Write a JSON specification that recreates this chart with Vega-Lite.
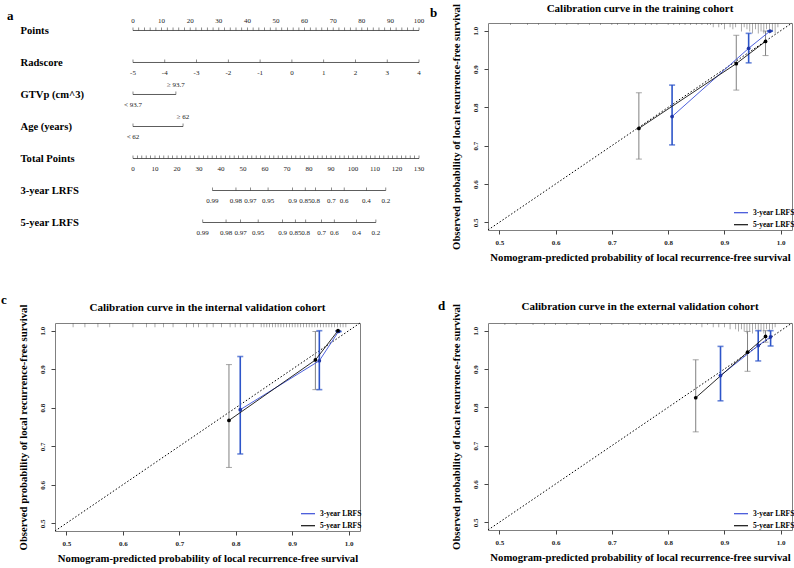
{
 "$schema": "https://vega.github.io/schema/vega-lite/v6.json",
 "padding": {"left": 1, "top": 2, "right": 0, "bottom": 0},
 "columns": 2,
 "bounds": "flush",
 "spacing": {"row": 93, "column": 128},
 "resolve": {"scale": {"color": "independent"}, "legend": {"color": "independent"}},
 "config": {
  "font": "Liberation Serif",
  "view": {"stroke": "#808080", "strokeWidth": 1},
  "axis": {"domain": false, "grid": false, "ticks": true, "tickColor": "#444", "tickSize": 4, "labelFont": "Liberation Serif", "labelFontWeight": "bold", "labelFontSize": 7, "labelColor": "#222", "titleFont": "Liberation Serif", "titleFontWeight": "bold", "titleFontSize": 10.7, "titleColor": "#000"},
  "title": {"font": "Liberation Serif", "fontWeight": "bold", "color": "#000"}
 },
 "datasets": {
  "nomoA": [
   {"row": "Points", "pts": 0, "label": "0"}, {"row": "Points", "pts": 10, "label": "10"}, {"row": "Points", "pts": 20, "label": "20"}, {"row": "Points", "pts": 30, "label": "30"}, {"row": "Points", "pts": 40, "label": "40"}, {"row": "Points", "pts": 50, "label": "50"}, {"row": "Points", "pts": 60, "label": "60"}, {"row": "Points", "pts": 70, "label": "70"}, {"row": "Points", "pts": 80, "label": "80"}, {"row": "Points", "pts": 90, "label": "90"}, {"row": "Points", "pts": 100, "label": "100"},
   {"row": "Radscore", "pts": 0, "label": "-5"}, {"row": "Radscore", "pts": 11.11, "label": "-4"}, {"row": "Radscore", "pts": 22.22, "label": "-3"}, {"row": "Radscore", "pts": 33.33, "label": "-2"}, {"row": "Radscore", "pts": 44.44, "label": "-1"}, {"row": "Radscore", "pts": 55.56, "label": "0"}, {"row": "Radscore", "pts": 66.67, "label": "1"}, {"row": "Radscore", "pts": 77.78, "label": "2"}, {"row": "Radscore", "pts": 88.89, "label": "3"}, {"row": "Radscore", "pts": 100, "label": "4"},
   {"row": "GTVp (cm^3)", "pts": 0, "label": "< 93.7"}, {"row": "GTVp (cm^3)", "pts": 15, "label": "≥ 93.7"},
   {"row": "Age (years)", "pts": 0, "label": "< 62"}, {"row": "Age (years)", "pts": 17.5, "label": "≥ 62"}
  ],
  "nomoA_minor": [
   {"row": "Points", "pts": 2}, {"row": "Points", "pts": 4}, {"row": "Points", "pts": 6}, {"row": "Points", "pts": 8}, {"row": "Points", "pts": 12}, {"row": "Points", "pts": 14}, {"row": "Points", "pts": 16}, {"row": "Points", "pts": 18}, {"row": "Points", "pts": 22}, {"row": "Points", "pts": 24}, {"row": "Points", "pts": 26}, {"row": "Points", "pts": 28}, {"row": "Points", "pts": 32}, {"row": "Points", "pts": 34}, {"row": "Points", "pts": 36}, {"row": "Points", "pts": 38}, {"row": "Points", "pts": 42}, {"row": "Points", "pts": 44}, {"row": "Points", "pts": 46}, {"row": "Points", "pts": 48}, {"row": "Points", "pts": 52}, {"row": "Points", "pts": 54}, {"row": "Points", "pts": 56}, {"row": "Points", "pts": 58}, {"row": "Points", "pts": 62}, {"row": "Points", "pts": 64}, {"row": "Points", "pts": 66}, {"row": "Points", "pts": 68}, {"row": "Points", "pts": 72}, {"row": "Points", "pts": 74}, {"row": "Points", "pts": 76}, {"row": "Points", "pts": 78}, {"row": "Points", "pts": 82}, {"row": "Points", "pts": 84}, {"row": "Points", "pts": 86}, {"row": "Points", "pts": 88}, {"row": "Points", "pts": 92}, {"row": "Points", "pts": 94}, {"row": "Points", "pts": 96}, {"row": "Points", "pts": 98}
  ],
  "nomoB": [
   {"row": "Total Points", "pts": 0, "label": "0"}, {"row": "Total Points", "pts": 10, "label": "10"}, {"row": "Total Points", "pts": 20, "label": "20"}, {"row": "Total Points", "pts": 30, "label": "30"}, {"row": "Total Points", "pts": 40, "label": "40"}, {"row": "Total Points", "pts": 50, "label": "50"}, {"row": "Total Points", "pts": 60, "label": "60"}, {"row": "Total Points", "pts": 70, "label": "70"}, {"row": "Total Points", "pts": 80, "label": "80"}, {"row": "Total Points", "pts": 90, "label": "90"}, {"row": "Total Points", "pts": 100, "label": "100"}, {"row": "Total Points", "pts": 110, "label": "110"}, {"row": "Total Points", "pts": 120, "label": "120"}, {"row": "Total Points", "pts": 130, "label": "130"},
   {"row": "3-year LRFS", "pts": 36.1, "label": "0.99"}, {"row": "3-year LRFS", "pts": 46.8, "label": "0.98"}, {"row": "3-year LRFS", "pts": 53.4, "label": "0.97"}, {"row": "3-year LRFS", "pts": 61.4, "label": "0.95"}, {"row": "3-year LRFS", "pts": 72.5, "label": "0.9"}, {"row": "3-year LRFS", "pts": 78.3, "label": "0.85"}, {"row": "3-year LRFS", "pts": 83.0, "label": "0.8"}, {"row": "3-year LRFS", "pts": 90.2, "label": "0.7"}, {"row": "3-year LRFS", "pts": 96.0, "label": "0.6"}, {"row": "3-year LRFS", "pts": 106.1, "label": "0.4"}, {"row": "3-year LRFS", "pts": 114.9, "label": "0.2"},
   {"row": "5-year LRFS", "pts": 31.7, "label": "0.99"}, {"row": "5-year LRFS", "pts": 42.3, "label": "0.98"}, {"row": "5-year LRFS", "pts": 48.9, "label": "0.97"}, {"row": "5-year LRFS", "pts": 56.9, "label": "0.95"}, {"row": "5-year LRFS", "pts": 68.0, "label": "0.9"}, {"row": "5-year LRFS", "pts": 73.8, "label": "0.85"}, {"row": "5-year LRFS", "pts": 78.5, "label": "0.8"}, {"row": "5-year LRFS", "pts": 85.7, "label": "0.7"}, {"row": "5-year LRFS", "pts": 91.5, "label": "0.6"}, {"row": "5-year LRFS", "pts": 101.6, "label": "0.4"}, {"row": "5-year LRFS", "pts": 110.4, "label": "0.2"}
  ],
  "nomoB_minor": [
   {"row": "Total Points", "pts": 2}, {"row": "Total Points", "pts": 4}, {"row": "Total Points", "pts": 6}, {"row": "Total Points", "pts": 8}, {"row": "Total Points", "pts": 12}, {"row": "Total Points", "pts": 14}, {"row": "Total Points", "pts": 16}, {"row": "Total Points", "pts": 18}, {"row": "Total Points", "pts": 22}, {"row": "Total Points", "pts": 24}, {"row": "Total Points", "pts": 26}, {"row": "Total Points", "pts": 28}, {"row": "Total Points", "pts": 32}, {"row": "Total Points", "pts": 34}, {"row": "Total Points", "pts": 36}, {"row": "Total Points", "pts": 38}, {"row": "Total Points", "pts": 42}, {"row": "Total Points", "pts": 44}, {"row": "Total Points", "pts": 46}, {"row": "Total Points", "pts": 48}, {"row": "Total Points", "pts": 52}, {"row": "Total Points", "pts": 54}, {"row": "Total Points", "pts": 56}, {"row": "Total Points", "pts": 58}, {"row": "Total Points", "pts": 62}, {"row": "Total Points", "pts": 64}, {"row": "Total Points", "pts": 66}, {"row": "Total Points", "pts": 68}, {"row": "Total Points", "pts": 72}, {"row": "Total Points", "pts": 74}, {"row": "Total Points", "pts": 76}, {"row": "Total Points", "pts": 78}, {"row": "Total Points", "pts": 82}, {"row": "Total Points", "pts": 84}, {"row": "Total Points", "pts": 86}, {"row": "Total Points", "pts": 88}, {"row": "Total Points", "pts": 92}, {"row": "Total Points", "pts": 94}, {"row": "Total Points", "pts": 96}, {"row": "Total Points", "pts": 98}, {"row": "Total Points", "pts": 102}, {"row": "Total Points", "pts": 104}, {"row": "Total Points", "pts": 106}, {"row": "Total Points", "pts": 108}, {"row": "Total Points", "pts": 112}, {"row": "Total Points", "pts": 114}, {"row": "Total Points", "pts": 116}, {"row": "Total Points", "pts": 118}, {"row": "Total Points", "pts": 122}, {"row": "Total Points", "pts": 124}, {"row": "Total Points", "pts": 126}, {"row": "Total Points", "pts": 128}
  ],
  "b_cal": [
   {"series": "3-year LRFS", "pred": 0.807, "obs": 0.776, "lo": 0.702, "hi": 0.858},
   {"series": "3-year LRFS", "pred": 0.943, "obs": 0.954, "lo": 0.916, "hi": 0.993},
   {"series": "3-year LRFS", "pred": 0.981, "obs": 0.999, "lo": 0.999, "hi": 0.999},
   {"series": "5-year LRFS", "pred": 0.748, "obs": 0.745, "lo": 0.665, "hi": 0.838},
   {"series": "5-year LRFS", "pred": 0.921, "obs": 0.914, "lo": 0.845, "hi": 0.988},
   {"series": "5-year LRFS", "pred": 0.973, "obs": 0.972, "lo": 0.935, "hi": 0.999}
  ],
  "c_cal": [
   {"series": "3-year LRFS", "pred": 0.808, "obs": 0.795, "lo": 0.68, "hi": 0.933},
   {"series": "3-year LRFS", "pred": 0.948, "obs": 0.922, "lo": 0.847, "hi": 1.0},
   {"series": "3-year LRFS", "pred": 0.982, "obs": 0.998, "lo": 0.998, "hi": 0.998},
   {"series": "5-year LRFS", "pred": 0.788, "obs": 0.767, "lo": 0.645, "hi": 0.912},
   {"series": "5-year LRFS", "pred": 0.941, "obs": 0.924, "lo": 0.847, "hi": 0.998},
   {"series": "5-year LRFS", "pred": 0.981, "obs": 1.0, "lo": 1.0, "hi": 1.0}
  ],
  "d_cal": [
   {"series": "3-year LRFS", "pred": 0.893, "obs": 0.883, "lo": 0.817, "hi": 0.959},
   {"series": "3-year LRFS", "pred": 0.96, "obs": 0.961, "lo": 0.921, "hi": 1.0},
   {"series": "3-year LRFS", "pred": 0.982, "obs": 0.984, "lo": 0.96, "hi": 1.0},
   {"series": "5-year LRFS", "pred": 0.849, "obs": 0.825, "lo": 0.736, "hi": 0.924},
   {"series": "5-year LRFS", "pred": 0.941, "obs": 0.944, "lo": 0.894, "hi": 0.998},
   {"series": "5-year LRFS", "pred": 0.973, "obs": 0.985, "lo": 0.97, "hi": 1.0}
  ],
  "b_rug": [
   {"p": 0.52, "n": 1}, {"p": 0.55, "n": 1}, {"p": 0.57, "n": 1}, {"p": 0.6, "n": 1}, {"p": 0.62, "n": 1}, {"p": 0.64, "n": 1}, {"p": 0.66, "n": 1}, {"p": 0.68, "n": 1}, {"p": 0.7, "n": 1}, {"p": 0.71, "n": 1}, {"p": 0.73, "n": 1}, {"p": 0.74, "n": 1}, {"p": 0.76, "n": 1}, {"p": 0.77, "n": 1}, {"p": 0.78, "n": 1}, {"p": 0.8, "n": 1}, {"p": 0.81, "n": 1}, {"p": 0.82, "n": 1}, {"p": 0.83, "n": 1}, {"p": 0.84, "n": 1}, {"p": 0.85, "n": 1}, {"p": 0.86, "n": 1}, {"p": 0.87, "n": 1}, {"p": 0.875, "n": 1},
   {"p": 0.88, "n": 2}, {"p": 0.89, "n": 2}, {"p": 0.895, "n": 1}, {"p": 0.9, "n": 3}, {"p": 0.91, "n": 2}, {"p": 0.915, "n": 3}, {"p": 0.92, "n": 2}, {"p": 0.93, "n": 4}, {"p": 0.935, "n": 2}, {"p": 0.94, "n": 3}, {"p": 0.945, "n": 4}, {"p": 0.95, "n": 5}, {"p": 0.955, "n": 3}, {"p": 0.96, "n": 5}, {"p": 0.965, "n": 4}, {"p": 0.97, "n": 5}, {"p": 0.975, "n": 3}, {"p": 0.98, "n": 5}, {"p": 0.985, "n": 4}, {"p": 0.99, "n": 5}, {"p": 0.995, "n": 2}
  ],
  "c_rug": [
   {"p": 0.512, "n": 2}, {"p": 0.533, "n": 2}, {"p": 0.556, "n": 2}, {"p": 0.577, "n": 2}, {"p": 0.618, "n": 2}, {"p": 0.642, "n": 2}, {"p": 0.657, "n": 2}, {"p": 0.672, "n": 2}, {"p": 0.689, "n": 2}, {"p": 0.713, "n": 2}, {"p": 0.725, "n": 2}, {"p": 0.734, "n": 2}, {"p": 0.749, "n": 2}, {"p": 0.76, "n": 2}, {"p": 0.775, "n": 2}, {"p": 0.79, "n": 2}, {"p": 0.799, "n": 2}, {"p": 0.808, "n": 2}, {"p": 0.82, "n": 2}, {"p": 0.831, "n": 2},
   {"p": 0.845, "n": 2}, {"p": 0.85, "n": 2}, {"p": 0.855, "n": 2}, {"p": 0.86, "n": 2}, {"p": 0.865, "n": 2}, {"p": 0.87, "n": 2}, {"p": 0.875, "n": 2}, {"p": 0.88, "n": 2}, {"p": 0.885, "n": 2}, {"p": 0.89, "n": 2}, {"p": 0.895, "n": 2}, {"p": 0.9, "n": 2}, {"p": 0.905, "n": 2}, {"p": 0.91, "n": 2}, {"p": 0.915, "n": 2}, {"p": 0.92, "n": 2}, {"p": 0.925, "n": 2}, {"p": 0.93, "n": 2}, {"p": 0.935, "n": 2}, {"p": 0.94, "n": 2}, {"p": 0.945, "n": 2}, {"p": 0.95, "n": 2}, {"p": 0.955, "n": 2}, {"p": 0.96, "n": 2}, {"p": 0.965, "n": 2}, {"p": 0.97, "n": 2}, {"p": 0.975, "n": 2}, {"p": 0.98, "n": 2}, {"p": 0.985, "n": 2}, {"p": 0.99, "n": 2}, {"p": 0.995, "n": 2}
  ],
  "d_rug": [
   {"p": 0.51, "n": 1}, {"p": 0.53, "n": 1}, {"p": 0.56, "n": 1}, {"p": 0.58, "n": 1}, {"p": 0.6, "n": 1}, {"p": 0.62, "n": 1}, {"p": 0.64, "n": 1}, {"p": 0.66, "n": 1}, {"p": 0.68, "n": 1}, {"p": 0.7, "n": 1}, {"p": 0.72, "n": 1}, {"p": 0.73, "n": 1}, {"p": 0.75, "n": 1}, {"p": 0.76, "n": 1}, {"p": 0.77, "n": 1}, {"p": 0.78, "n": 1}, {"p": 0.79, "n": 1}, {"p": 0.8, "n": 1}, {"p": 0.81, "n": 1}, {"p": 0.82, "n": 1}, {"p": 0.83, "n": 1}, {"p": 0.84, "n": 1}, {"p": 0.85, "n": 1}, {"p": 0.86, "n": 2}, {"p": 0.87, "n": 1}, {"p": 0.88, "n": 2}, {"p": 0.89, "n": 2}, {"p": 0.9, "n": 2}, {"p": 0.91, "n": 3}, {"p": 0.92, "n": 3}, {"p": 0.925, "n": 4}, {"p": 0.93, "n": 3}, {"p": 0.935, "n": 4}, {"p": 0.94, "n": 5}, {"p": 0.945, "n": 4}, {"p": 0.95, "n": 5}, {"p": 0.955, "n": 3}, {"p": 0.96, "n": 5}, {"p": 0.965, "n": 4}, {"p": 0.97, "n": 5}, {"p": 0.975, "n": 3}, {"p": 0.98, "n": 4}, {"p": 0.985, "n": 3}, {"p": 0.99, "n": 2}
  ]
 },
 "concat": [
  {
   "width": 305, "height": 207,
   "view": {"stroke": null},
   "title": {"text": "a", "anchor": "start", "frame": "group", "dx": -48, "dy": 6, "offset": 0, "fontSize": 13},
   "resolve": {"scale": {"x": "independent"}},
   "layer": [
    {"data": {"name": "nomoA"}, "mark": {"type": "rule", "color": "#333", "strokeWidth": 0.8},
     "encoding": {
      "x": {"aggregate": "min", "field": "pts", "type": "quantitative", "scale": {"domain": [-27.27, 79.37], "nice": false, "zero": false}, "axis": null},
      "x2": {"aggregate": "max", "field": "pts"},
      "y": {"field": "row", "type": "ordinal", "scale": {"type": "point", "domain": ["Points", "Radscore", "GTVp (cm^3)", "Age (years)", "Total Points", "3-year LRFS", "5-year LRFS"], "padding": 0.234}, "axis": {"title": null, "ticks": false, "domain": false, "labelAlign": "left", "labelBaseline": "middle", "labelPadding": 35, "labelFontSize": 10.6, "labelFontWeight": "bold", "labelColor": "#000", "labelOverlap": false, "labelLimit": 300}}
     }},
    {"data": {"name": "nomoA"}, "mark": {"type": "tick", "orient": "vertical", "size": 3, "thickness": 0.8, "yOffset": -1.5, "color": "#333"},
     "encoding": {"x": {"field": "pts", "type": "quantitative", "scale": {"domain": [-27.27, 79.37], "nice": false, "zero": false}, "axis": null}, "y": {"field": "row", "type": "ordinal"}}},
    {"data": {"name": "nomoA_minor"}, "mark": {"type": "tick", "orient": "vertical", "size": 3, "thickness": 0.8, "yOffset": -1.5, "color": "#333"},
     "encoding": {"x": {"field": "pts", "type": "quantitative", "scale": {"domain": [-27.27, 79.37], "nice": false, "zero": false}, "axis": null}, "y": {"field": "row", "type": "ordinal"}}},
    {"data": {"name": "nomoA"}, "transform": [{"filter": "datum.row === 'Points' || indexof(datum.label, '≥') === 0"}],
     "mark": {"type": "text", "dy": -9.5, "fontSize": 7, "color": "#222", "baseline": "middle"},
     "encoding": {"x": {"field": "pts", "type": "quantitative", "scale": {"domain": [-27.27, 79.37], "nice": false, "zero": false}, "axis": null}, "y": {"field": "row", "type": "ordinal"}, "text": {"field": "label"}}},
    {"data": {"name": "nomoA"}, "transform": [{"filter": "!(datum.row === 'Points' || indexof(datum.label, '≥') === 0)"}],
     "mark": {"type": "text", "dy": 10.5, "fontSize": 7, "color": "#222", "baseline": "middle"},
     "encoding": {"x": {"field": "pts", "type": "quantitative", "scale": {"domain": [-27.27, 79.37], "nice": false, "zero": false}, "axis": null}, "y": {"field": "row", "type": "ordinal"}, "text": {"field": "label"}}},
    {"data": {"name": "nomoB"}, "mark": {"type": "rule", "color": "#333", "strokeWidth": 0.8},
     "encoding": {
      "x": {"aggregate": "min", "field": "pts", "type": "quantitative", "scale": {"domain": [-35.45, 103.18], "nice": false, "zero": false}, "axis": null},
      "x2": {"aggregate": "max", "field": "pts"},
      "y": {"field": "row", "type": "ordinal"}
     }},
    {"data": {"name": "nomoB"}, "mark": {"type": "tick", "orient": "vertical", "size": 3, "thickness": 0.8, "yOffset": -1.5, "color": "#333"},
     "encoding": {"x": {"field": "pts", "type": "quantitative", "scale": {"domain": [-35.45, 103.18], "nice": false, "zero": false}, "axis": null}, "y": {"field": "row", "type": "ordinal"}}},
    {"data": {"name": "nomoB_minor"}, "mark": {"type": "tick", "orient": "vertical", "size": 3, "thickness": 0.8, "yOffset": -1.5, "color": "#333"},
     "encoding": {"x": {"field": "pts", "type": "quantitative", "scale": {"domain": [-35.45, 103.18], "nice": false, "zero": false}, "axis": null}, "y": {"field": "row", "type": "ordinal"}}},
    {"data": {"name": "nomoB"}, "mark": {"type": "text", "dy": 10.5, "fontSize": 7, "color": "#222", "baseline": "middle"},
     "encoding": {"x": {"field": "pts", "type": "quantitative", "scale": {"domain": [-35.45, 103.18], "nice": false, "zero": false}, "axis": null}, "y": {"field": "row", "type": "ordinal"}, "text": {"field": "label"}}}
   ]
  },
  {
   "title": {"text": "b", "anchor": "start", "frame": "group", "dx": -58, "dy": 17.5, "offset": 0, "fontSize": 13},
   "bounds": "flush",
   "vconcat": [
    {
     "width": 304, "height": 207,
     "title": {"text": "Calibration curve in the training cohort", "anchor": "middle", "frame": "group", "fontSize": 11, "offset": 0, "dy": 10.5},
     "layer": [
      {"data": {"name": "b_rug"}, "mark": {"type": "tick", "orient": "vertical", "clip": true, "color": "#555", "thickness": 0.7},
       "encoding": {"x": {"field": "p", "type": "quantitative", "scale": {"domain": [0.48, 1.02], "nice": false, "zero": false}},
        "y": {"datum": 1.02, "type": "quantitative", "scale": {"domain": [0.48, 1.02], "nice": false, "zero": false}},
        "size": {"field": "n", "type": "quantitative", "scale": {"domain": [0, 5], "range": [0, 21]}, "legend": null}}},
      {"data": {"values": [{}]}, "mark": {"type": "rule", "color": "#000", "strokeDash": [1.5, 2], "strokeWidth": 1},
       "encoding": {"x": {"datum": 0.48, "type": "quantitative"}, "y": {"datum": 0.48, "type": "quantitative"}, "x2": {"datum": 1.02}, "y2": {"datum": 1.02}}},
      {"data": {"name": "b_cal"}, "transform": [{"filter": "datum.series === '5-year LRFS'"}], "mark": {"type": "errorbar", "color": "#808080", "ticks": true, "size": 6, "thickness": 1},
       "encoding": {"x": {"field": "pred", "type": "quantitative", "title": "Nomogram-predicted probability of local recurrence-free survival"}, "y": {"field": "lo", "type": "quantitative", "title": "Observed probability of local recurrence-free survival"}, "y2": {"field": "hi"}}},
      {"data": {"name": "b_cal"}, "transform": [{"filter": "datum.series === '3-year LRFS'"}], "mark": {"type": "errorbar", "color": "#2d55c9", "ticks": true, "size": 6, "thickness": 1.6},
       "encoding": {"x": {"field": "pred", "type": "quantitative", "title": "Nomogram-predicted probability of local recurrence-free survival"}, "y": {"field": "lo", "type": "quantitative", "title": "Observed probability of local recurrence-free survival"}, "y2": {"field": "hi"}}},
      {"data": {"name": "b_cal"}, "mark": {"type": "line", "strokeWidth": 0.9},
       "encoding": {
        "x": {"field": "pred", "type": "quantitative", "scale": {"domain": [0.48, 1.02], "nice": false, "zero": false}, "axis": {"values": [0.5, 0.6, 0.7, 0.8, 0.9, 1.0], "format": ".1f", "title": "Nomogram-predicted probability of local recurrence-free survival", "labelPadding": 4, "titlePadding": 7}},
        "y": {"field": "obs", "type": "quantitative", "scale": {"domain": [0.48, 1.02], "nice": false, "zero": false}, "axis": {"values": [0.5, 0.6, 0.7, 0.8, 0.9, 1.0], "format": ".1f", "labelAngle": 270, "title": "Observed probability of local recurrence-free survival", "labelPadding": 6, "titlePadding": 10}},
        "color": {"field": "series", "type": "nominal", "scale": {"domain": ["3-year LRFS", "5-year LRFS"], "range": ["#3a4fd8", "#111111"]},
         "legend": {"orient": "none", "legendX": 245, "legendY": 181.7, "direction": "vertical", "title": null, "symbolType": "stroke", "symbolSize": 196, "symbolStrokeWidth": 1.2, "labelFont": "Liberation Serif", "labelFontWeight": "bold", "labelFontSize": 7.5, "labelOffset": 4, "labelColor": "#000", "rowPadding": -7, "padding": 0}}
       }},
      {"data": {"name": "b_cal"}, "mark": {"type": "point", "filled": true, "size": 14, "opacity": 1},
       "encoding": {"x": {"field": "pred", "type": "quantitative"}, "y": {"field": "obs", "type": "quantitative"},
        "fill": {"field": "series", "type": "nominal", "scale": {"domain": ["3-year LRFS", "5-year LRFS"], "range": ["#1f36a8", "#000000"]}, "legend": null}}}
     ]
    }
   ]
  },
  {
   "title": {"text": "c", "anchor": "start", "frame": "group", "dx": -54, "dy": 5.6, "offset": 0, "fontSize": 13},
   "bounds": "flush",
   "vconcat": [
    {
     "width": 305, "height": 208,
     "title": {"text": "Calibration curve in the internal validation cohort", "anchor": "middle", "frame": "group", "fontSize": 11, "offset": 0, "dy": 8.5},
     "layer": [
      {"data": {"name": "c_rug"}, "mark": {"type": "tick", "orient": "vertical", "clip": true, "color": "#555", "thickness": 0.7},
       "encoding": {"x": {"field": "p", "type": "quantitative", "scale": {"domain": [0.48, 1.02], "nice": false, "zero": false}},
        "y": {"datum": 1.02, "type": "quantitative", "scale": {"domain": [0.48, 1.02], "nice": false, "zero": false}},
        "size": {"field": "n", "type": "quantitative", "scale": {"domain": [0, 5], "range": [0, 21]}, "legend": null}}},
      {"data": {"values": [{}]}, "mark": {"type": "rule", "color": "#000", "strokeDash": [1.5, 2], "strokeWidth": 1},
       "encoding": {"x": {"datum": 0.48, "type": "quantitative"}, "y": {"datum": 0.48, "type": "quantitative"}, "x2": {"datum": 1.02}, "y2": {"datum": 1.02}}},
      {"data": {"name": "c_cal"}, "transform": [{"filter": "datum.series === '5-year LRFS'"}], "mark": {"type": "errorbar", "color": "#808080", "ticks": true, "size": 6, "thickness": 1},
       "encoding": {"x": {"field": "pred", "type": "quantitative", "title": "Nomogram-predicted probability of local recurrence-free survival"}, "y": {"field": "lo", "type": "quantitative", "title": "Observed probability of local recurrence-free survival"}, "y2": {"field": "hi"}}},
      {"data": {"name": "c_cal"}, "transform": [{"filter": "datum.series === '3-year LRFS'"}], "mark": {"type": "errorbar", "color": "#2d55c9", "ticks": true, "size": 6, "thickness": 1.6},
       "encoding": {"x": {"field": "pred", "type": "quantitative", "title": "Nomogram-predicted probability of local recurrence-free survival"}, "y": {"field": "lo", "type": "quantitative", "title": "Observed probability of local recurrence-free survival"}, "y2": {"field": "hi"}}},
      {"data": {"name": "c_cal"}, "mark": {"type": "line", "strokeWidth": 0.9},
       "encoding": {
        "x": {"field": "pred", "type": "quantitative", "scale": {"domain": [0.48, 1.02], "nice": false, "zero": false}, "axis": {"values": [0.5, 0.6, 0.7, 0.8, 0.9, 1.0], "format": ".1f", "title": "Nomogram-predicted probability of local recurrence-free survival", "labelPadding": 4, "titlePadding": 7}},
        "y": {"field": "obs", "type": "quantitative", "scale": {"domain": [0.48, 1.02], "nice": false, "zero": false}, "axis": {"values": [0.5, 0.6, 0.7, 0.8, 0.9, 1.0], "format": ".1f", "labelAngle": 270, "title": "Observed probability of local recurrence-free survival", "labelPadding": 6, "titlePadding": 10}},
        "color": {"field": "series", "type": "nominal", "scale": {"domain": ["3-year LRFS", "5-year LRFS"], "range": ["#3a4fd8", "#111111"]},
         "legend": {"orient": "none", "legendX": 245, "legendY": 182.7, "direction": "vertical", "title": null, "symbolType": "stroke", "symbolSize": 196, "symbolStrokeWidth": 1.2, "labelFont": "Liberation Serif", "labelFontWeight": "bold", "labelFontSize": 7.5, "labelOffset": 4, "labelColor": "#000", "rowPadding": -7, "padding": 0}}
       }},
      {"data": {"name": "c_cal"}, "mark": {"type": "point", "filled": true, "size": 14, "opacity": 1},
       "encoding": {"x": {"field": "pred", "type": "quantitative"}, "y": {"field": "obs", "type": "quantitative"},
        "fill": {"field": "series", "type": "nominal", "scale": {"domain": ["3-year LRFS", "5-year LRFS"], "range": ["#1f36a8", "#000000"]}, "legend": null}}}
     ]
    }
   ]
  },
  {
   "title": {"text": "d", "anchor": "start", "frame": "group", "dx": -50, "dy": 12.3, "offset": 0, "fontSize": 13},
   "bounds": "flush",
   "vconcat": [
    {
     "width": 304, "height": 207,
     "title": {"text": "Calibration curve in the external validation cohort", "anchor": "middle", "frame": "group", "fontSize": 11, "offset": 0, "dy": 8.5},
     "layer": [
      {"data": {"name": "d_rug"}, "mark": {"type": "tick", "orient": "vertical", "clip": true, "color": "#555", "thickness": 0.7},
       "encoding": {"x": {"field": "p", "type": "quantitative", "scale": {"domain": [0.48, 1.02], "nice": false, "zero": false}},
        "y": {"datum": 1.02, "type": "quantitative", "scale": {"domain": [0.48, 1.02], "nice": false, "zero": false}},
        "size": {"field": "n", "type": "quantitative", "scale": {"domain": [0, 5], "range": [0, 21]}, "legend": null}}},
      {"data": {"values": [{}]}, "mark": {"type": "rule", "color": "#000", "strokeDash": [1.5, 2], "strokeWidth": 1},
       "encoding": {"x": {"datum": 0.48, "type": "quantitative"}, "y": {"datum": 0.48, "type": "quantitative"}, "x2": {"datum": 1.02}, "y2": {"datum": 1.02}}},
      {"data": {"name": "d_cal"}, "transform": [{"filter": "datum.series === '5-year LRFS'"}], "mark": {"type": "errorbar", "color": "#808080", "ticks": true, "size": 6, "thickness": 1},
       "encoding": {"x": {"field": "pred", "type": "quantitative", "title": "Nomogram-predicted probability of local recurrence-free survival"}, "y": {"field": "lo", "type": "quantitative", "title": "Observed probability of local recurrence-free survival"}, "y2": {"field": "hi"}}},
      {"data": {"name": "d_cal"}, "transform": [{"filter": "datum.series === '3-year LRFS'"}], "mark": {"type": "errorbar", "color": "#2d55c9", "ticks": true, "size": 6, "thickness": 1.6},
       "encoding": {"x": {"field": "pred", "type": "quantitative", "title": "Nomogram-predicted probability of local recurrence-free survival"}, "y": {"field": "lo", "type": "quantitative", "title": "Observed probability of local recurrence-free survival"}, "y2": {"field": "hi"}}},
      {"data": {"name": "d_cal"}, "mark": {"type": "line", "strokeWidth": 0.9},
       "encoding": {
        "x": {"field": "pred", "type": "quantitative", "scale": {"domain": [0.48, 1.02], "nice": false, "zero": false}, "axis": {"values": [0.5, 0.6, 0.7, 0.8, 0.9, 1.0], "format": ".1f", "title": "Nomogram-predicted probability of local recurrence-free survival", "labelPadding": 4, "titlePadding": 7}},
        "y": {"field": "obs", "type": "quantitative", "scale": {"domain": [0.48, 1.02], "nice": false, "zero": false}, "axis": {"values": [0.5, 0.6, 0.7, 0.8, 0.9, 1.0], "format": ".1f", "labelAngle": 270, "title": "Observed probability of local recurrence-free survival", "labelPadding": 6, "titlePadding": 10}},
        "color": {"field": "series", "type": "nominal", "scale": {"domain": ["3-year LRFS", "5-year LRFS"], "range": ["#3a4fd8", "#111111"]},
         "legend": {"orient": "none", "legendX": 245, "legendY": 182.7, "direction": "vertical", "title": null, "symbolType": "stroke", "symbolSize": 196, "symbolStrokeWidth": 1.2, "labelFont": "Liberation Serif", "labelFontWeight": "bold", "labelFontSize": 7.5, "labelOffset": 4, "labelColor": "#000", "rowPadding": -7, "padding": 0}}
       }},
      {"data": {"name": "d_cal"}, "mark": {"type": "point", "filled": true, "size": 14, "opacity": 1},
       "encoding": {"x": {"field": "pred", "type": "quantitative"}, "y": {"field": "obs", "type": "quantitative"},
        "fill": {"field": "series", "type": "nominal", "scale": {"domain": ["3-year LRFS", "5-year LRFS"], "range": ["#1f36a8", "#000000"]}, "legend": null}}}
     ]
    }
   ]
  }
 ]
}
